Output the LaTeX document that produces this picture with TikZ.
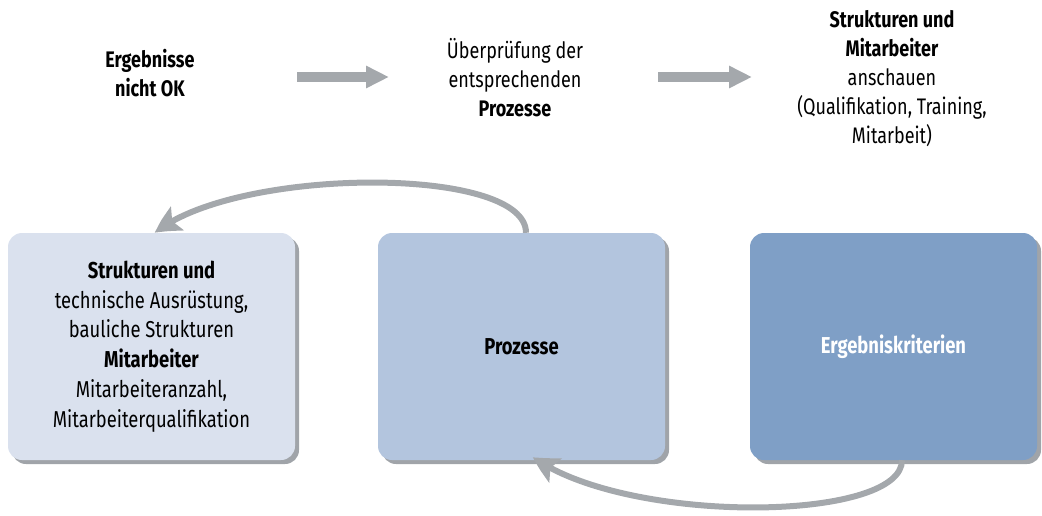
\documentclass[tikz,border=0pt]{standalone}
\usepackage{fontspec}
\setmainfont{Fira Sans}[FakeStretch=0.8]
\usetikzlibrary{arrows.meta,shadows,bending}
\definecolor{boxA}{HTML}{DAE1EE}
\definecolor{boxB}{HTML}{B3C5DE}
\definecolor{boxC}{HTML}{7F9FC6}
\definecolor{shade}{HTML}{A0A4A9}
\definecolor{arrowgray}{HTML}{A4A8AC}
\tikzset{
  card/.style={rounded corners=14pt, minimum width=287pt, minimum height=227pt,
    align=center, inner sep=0pt,
    font=\fontsize{23}{29.8}\selectfont,
    drop shadow={shadow xshift=4pt, shadow yshift=-4pt, fill=shade, opacity=1}},
  label/.style={align=center, font=\fontsize{22.5}{29}\selectfont},
  flatarrow/.style={arrowgray, line width=10pt,
    -{Triangle[length=23pt,width=21pt]}},
  looparrow/.style={arrowgray, line width=6pt,
    -{Stealth[length=25pt,width=27pt,inset=5pt,bend]}},
}
\begin{document}
\begin{tikzpicture}[x=1pt,y=-1pt]
\useasboundingbox (0,0) rectangle (1042,515);

% top row: reading of the cycle
\node[label] (t1) at (150,73) {\textbf{Ergebnisse}\\\textbf{nicht OK}};
\node[label] (t2) at (515,78) {Überprüfung der\\entsprechenden\\\textbf{Prozesse}};
\node[label] (t3) at (892,79) {\textbf{Strukturen und}\\\textbf{Mitarbeiter}\\anschauen\\(Qualifikation, Training,\\Mitarbeit)};

\coordinate (a1s) at (297,77);
\coordinate (a1e) at (389,77);
\coordinate (a2s) at (658,77);
\coordinate (a2e) at (752,77);
\draw[flatarrow] (a1s) -- (a1e);
\draw[flatarrow] (a2s) -- (a2e);

% the three quality dimensions
\node[card, fill=boxA] (sm) at (151.5,346.5)
  {\textbf{Strukturen und}\\technische Ausrüstung,\\bauliche Strukturen\\\textbf{Mitarbeiter}\\Mitarbeiteranzahl,\\Mitarbeiterqualifikation};
\node[card, fill=boxB] (pz) at (521.5,346.5) {\textbf{Prozesse}};
\node[card, fill=boxC, text=white] (ek) at (893.5,346.5) {\textbf{Ergebniskriterien}};

% feedback loops
\draw[looparrow] ([xshift=4.5pt]pz.north) .. controls +(0,-68) and +(80,-66) .. ([xshift=3.5pt]sm.north);
\draw[looparrow] ([xshift=8.5pt]ek.south) .. controls +(0,62) and +(95,68) .. ([xshift=11.5pt,yshift=3pt]pz.south);
\end{tikzpicture}
\end{document}
